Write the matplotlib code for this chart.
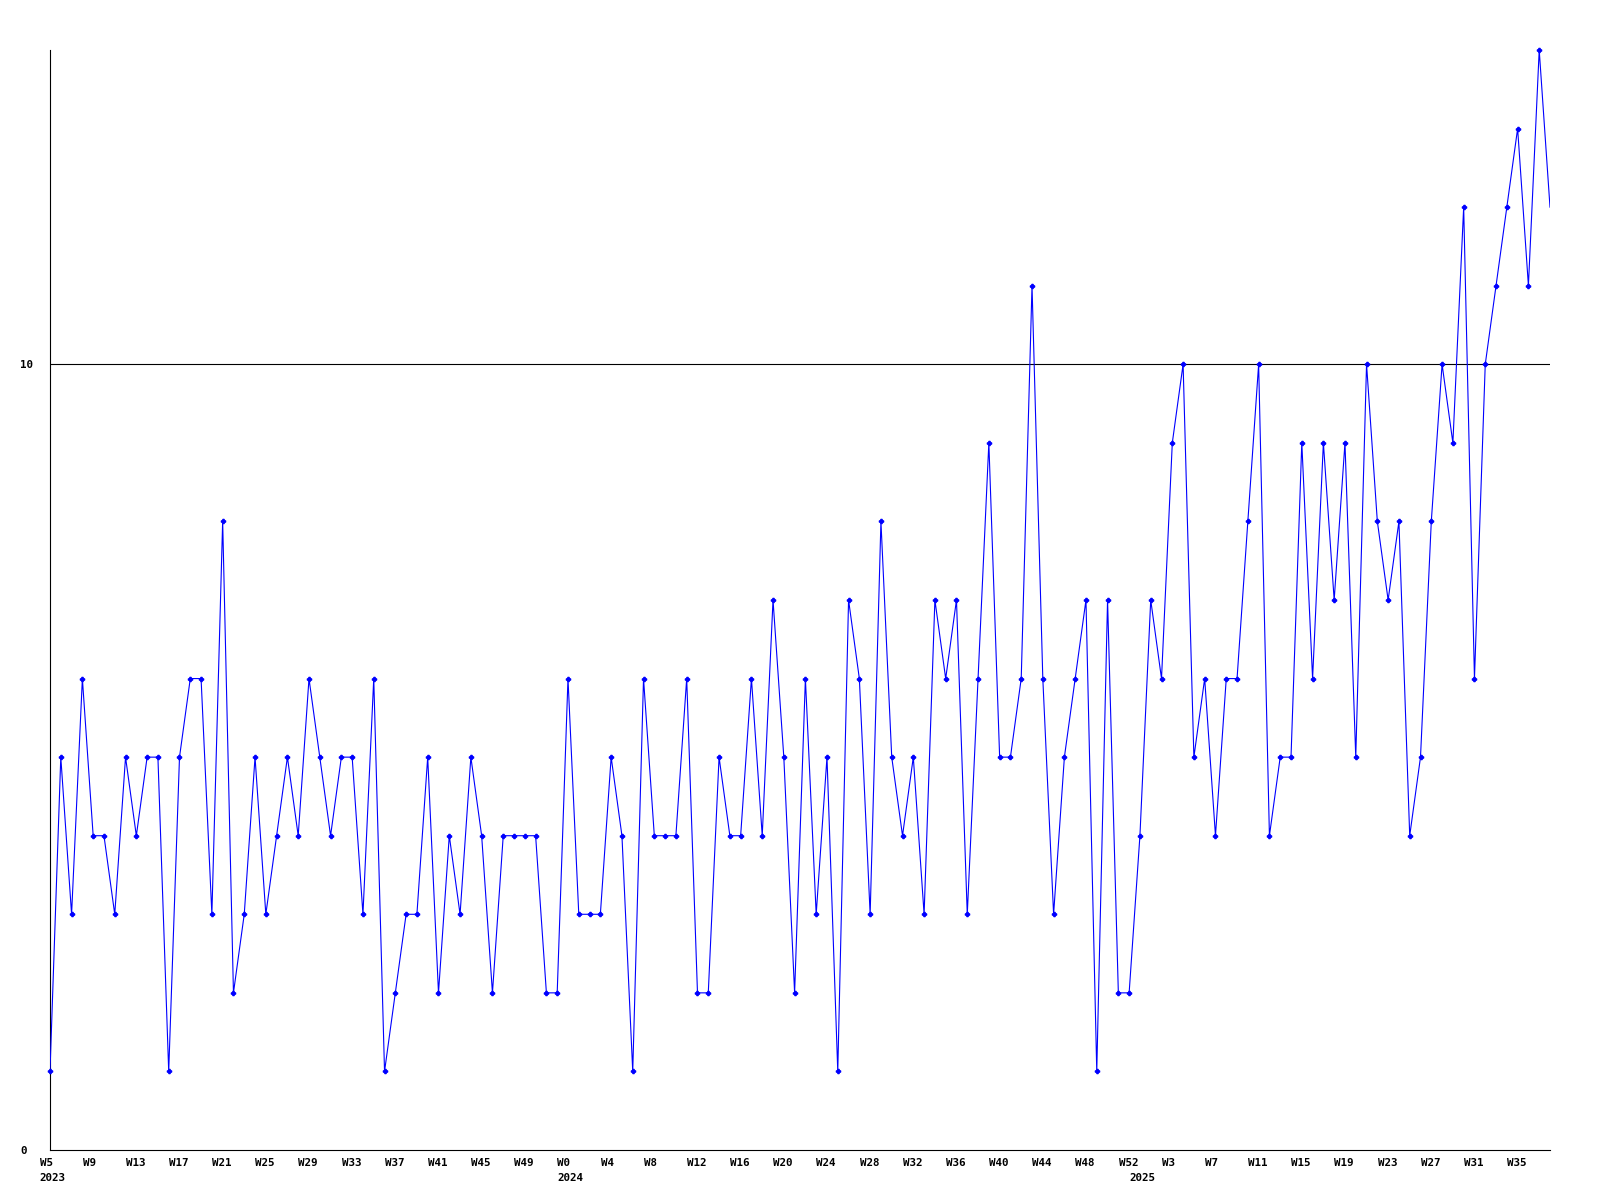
import matplotlib
matplotlib.use('Agg')
import matplotlib.pyplot as plt
import matplotlib.transforms as mtransforms

# valores semanales (desde W5 2023)
valores = [1, 5, 3, 6, 4, 4, 3, 5, 4, 5, 5, 1, 5, 6, 6, 3, 8, 2, 3, 5, 3, 4,
           5, 4, 6, 5, 4, 5, 5, 3, 6, 1, 2, 3, 3, 5, 2, 4, 3, 5, 4, 2, 4, 4, 4, 4, 2, 2, 6, 3,
           3, 3, 5, 4, 1, 6, 4, 4, 4, 6, 2, 2, 5, 4, 4, 6, 4, 7, 5, 2, 6, 3, 5, 1, 7, 6, 3,
           8, 5, 4, 5, 3, 7, 6, 7, 3, 6, 9, 5, 5, 6, 11, 6, 3, 5, 6, 7, 1, 7, 2, 2, 4, 7, 6,
           9, 10, 5, 6, 4, 6, 6, 8, 10, 4, 5, 5, 9, 6, 9, 7, 9, 5, 10, 8, 7, 8, 4, 5, 8, 10,
           9, 12, 6, 10, 11, 12, 13, 11, 14, 12]

# etiquetas de semana (una cada 4 semanas)
etiquetas_semana = (['W%d' % w for w in range(5, 50, 4)] +
                    ['W%d' % w for w in range(0, 53, 4)] +
                    ['W%d' % w for w in range(3, 36, 4)])
pos_semana = list(range(0, 4 * len(etiquetas_semana), 4))

anios = ['2023', '2024', '2025']
pos_anios = [0, 48, 101]

linea_ref = 10

fig = plt.figure(figsize=(16, 12), dpi=100)
ax = fig.add_axes([50 / 1600, 50 / 1200, 1500 / 1600, 1100 / 1200])

x = list(range(len(valores)))
ax.plot(x, valores, color='#0000ff', lw=0.8, zorder=3)
# el ultimo punto queda en el borde sin marcador
ax.plot(x[:-1], valores[:-1], ls='none', marker='P', ms=3, color='#0000ff',
        mec='#0000ff', zorder=4, clip_on=False)
ax.axhline(linea_ref, color='black', lw=0.8, zorder=2)

ax.set_xlim(0, len(valores) - 1)
ax.set_ylim(0, 14)

for lado in ['top', 'right']:
    ax.spines[lado].set_visible(False)
for lado in ['left', 'bottom']:
    ax.spines[lado].set_linewidth(0.8)

fuente = dict(family='DejaVu Sans Mono', weight='bold', size=7.8)

ax.set_yticks([0, 10])
ax.set_yticklabels(['0', '10'], ha='left', **fuente)
ax.tick_params(axis='y', length=0, pad=21.6)

ax.set_xticks([])
trans = mtransforms.blended_transform_factory(ax.transData, ax.transAxes)
off1 = mtransforms.ScaledTranslation(-10.5 / 100, -8 / 100, fig.dpi_scale_trans)
off2 = mtransforms.ScaledTranslation(-10.5 / 100, -23 / 100, fig.dpi_scale_trans)
for p, et in zip(pos_semana, etiquetas_semana):
    ax.text(p, 0, et, transform=trans + off1, ha='left', va='top', **fuente)
for p, a in zip(pos_anios, anios):
    ax.text(p, 0, a, transform=trans + off2, ha='left', va='top', **fuente)

plt.savefig('out.png', format='png')
plt.close()
